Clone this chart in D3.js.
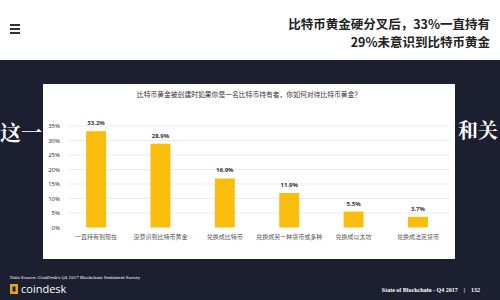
<!DOCTYPE html>
<html>
<head>
<meta charset="UTF-8">
<style>
  body { margin: 0; background: #1c1f2f; }
  svg { display: block; font-family: "Noto Sans CJK SC", "Noto Sans", sans-serif; }
</style>
</head>
<body>
<div id="chart"></div>
<script src="https://d3js.org/d3.v7.min.js"></script>
<script>
// data
const categories = ["一直持有到现在", "没意识到比特币黄金", "兑换成比特币", "兑换成另一种货币或多种", "兑换成以太坊", "兑换成法定货币"];
const values = [33.2, 28.9, 16.9, 11.9, 5.5, 3.7];
const yTicks = [0, 5, 10, 15, 20, 25, 30, 35];
const chartTitle = "比特币黄金被创建时如果你是一名比特币持有者，你如何对待比特币黄金？";
const headline = ["比特币黄金硬分叉后，33%一直持有", "29%未意识到比特币黄金"];

const W = 500, H = 300;
const svg = d3.select("#chart").append("svg").attr("width", W).attr("height", H);

// page background
svg.append("rect").attr("width", W).attr("height", H).attr("fill", "#1c1f2f");

// header bar
svg.append("rect").attr("width", W).attr("height", 60).attr("fill", "#ffffff");
svg.append("g").selectAll("rect").data([0, 1, 2]).join("rect")
    .attr("x", 10).attr("y", d => 24 + d * 4).attr("width", 10).attr("height", 2)
    .attr("fill", "#333");
svg.append("g").selectAll("text").data(headline).join("text")
    .attr("x", 490).attr("y", (d, i) => 29 + i * 18)
    .attr("text-anchor", "end")
    .attr("font-size", 12.5).attr("font-weight", "bold").attr("fill", "#222")
    .text(d => d);

// big brush text behind the panel
svg.append("text").attr("x", 0).attr("y", 140).attr("font-size", 21)
    .attr("font-weight", "bold").attr("fill", "#fff")
    .attr("font-family", "'Noto Serif CJK SC', 'Noto Sans CJK SC', serif")
    .text("这一");
svg.append("text").attr("x", 458).attr("y", 138).attr("font-size", 20)
    .attr("font-weight", "bold").attr("fill", "#fff")
    .attr("font-family", "'Noto Serif CJK SC', 'Noto Sans CJK SC', serif")
    .text("和关");

// chart panel
svg.append("rect").attr("x", 43).attr("y", 84).attr("width", 412).attr("height", 175)
    .attr("fill", "#ffffff");

svg.append("text").attr("x", 249).attr("y", 97).attr("text-anchor", "middle")
    .attr("font-size", 6.8).attr("fill", "#333").text(chartTitle);

const x = d3.scaleBand().domain(categories).range([64, 450])
    .paddingInner(0.69).paddingOuter(0.343);
const y = d3.scaleLinear().domain([0, 35]).range([227.5, 126]);

// gridlines
svg.append("g").selectAll("line").data(yTicks.filter(d => d > 0)).join("line")
    .attr("x1", 68).attr("x2", 450)
    .attr("y1", d => y(d)).attr("y2", d => y(d))
    .attr("stroke", "#e6e6e6").attr("stroke-width", 0.8);

// y axis labels
const yAxis = svg.append("g").attr("transform", "translate(63,0)")
    .call(d3.axisLeft(y).tickValues(yTicks).tickSize(0).tickFormat(d => d + "%"));
yAxis.select(".domain").remove();
yAxis.selectAll("text").attr("font-size", 6).attr("fill", "#333")
    .attr("font-family", "'Noto Sans', sans-serif");

// x axis labels
const xAxis = svg.append("g").attr("transform", `translate(0,${y(0)})`)
    .call(d3.axisBottom(x).tickSize(0).tickPadding(7));
xAxis.select(".domain").remove();
xAxis.selectAll("text").attr("font-size", 6).attr("fill", "#555")
    .attr("font-family", "'Noto Sans CJK SC', sans-serif");

// bars
svg.append("g").selectAll("rect").data(values).join("rect")
    .attr("x", (d, i) => x(categories[i]))
    .attr("y", d => y(d))
    .attr("width", x.bandwidth())
    .attr("height", d => y(0) - y(d))
    .attr("fill", "#fbbd0d");

// value labels
svg.append("g").selectAll("text").data(values).join("text")
    .attr("x", (d, i) => x(categories[i]) + x.bandwidth() / 2)
    .attr("y", d => y(d) - 6)
    .attr("text-anchor", "middle")
    .attr("font-size", 6).attr("font-weight", "bold").attr("fill", "#333")
    .attr("font-family", "'Noto Sans', sans-serif")
    .text(d => d.toFixed(1) + "%");

// footer
svg.append("text").attr("x", 10).attr("y", 279).attr("font-size", 4)
    .attr("fill", "#fff").attr("font-family", "'DejaVu Serif', serif")
    .text("Data Source: CoinDesk's Q4 2017 Blockchain Sentiment Survey");
svg.append("rect").attr("x", 10).attr("y", 284).attr("width", 8).attr("height", 10)
    .attr("fill", "#e8a317");
svg.append("rect").attr("x", 12.5).attr("y", 286.5).attr("width", 3).attr("height", 5)
    .attr("fill", "#1c1f2f");
svg.append("text").attr("x", 21).attr("y", 293).attr("font-size", 11)
    .attr("fill", "#fff").attr("font-family", "'Open Sans', sans-serif")
    .text("coindesk");
svg.append("text").attr("x", 480).attr("y", 292).attr("text-anchor", "end")
    .attr("font-size", 6).attr("font-weight", "bold").attr("fill", "#fff")
    .attr("font-family", "'Liberation Serif', serif")
    .attr("xml:space", "preserve")
    .text("State of Blockchain - Q4 2017    |    132");
</script>
</body>
</html>
